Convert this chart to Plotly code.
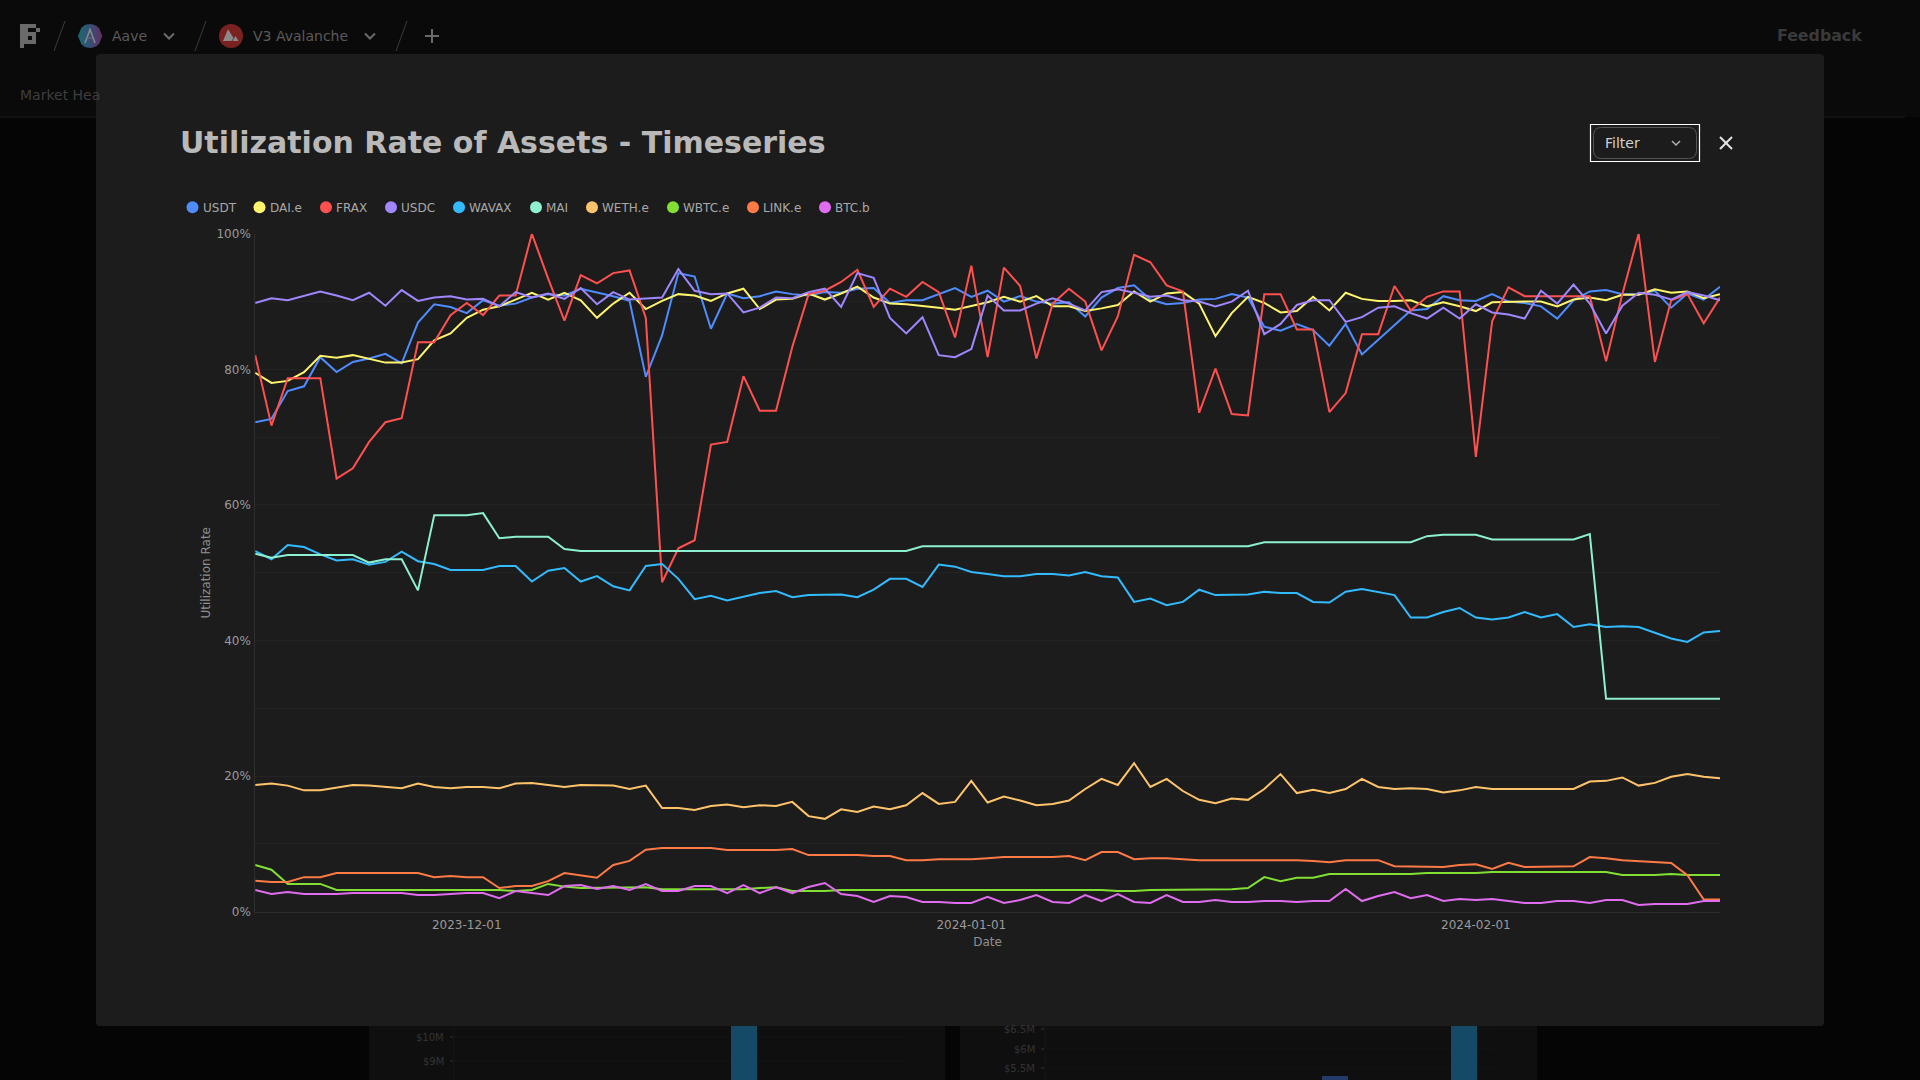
import pandas as pd
import plotly.graph_objects as go

START_DATE = "2023-11-18"
END_DATE = "2024-02-16"
dates = pd.date_range(START_DATE, END_DATE, freq="D")

usdt = [72.2,72.7,76.8,77.5,81.8,79.6,81.1,81.6,82.3,80.9,86.9,89.6,89.2,88.3,90.2,89.4,89.7,90.6,91.1,90.9,
        91.9,91.4,90.8,90.1,78.9,85.0,94.2,93.7,86.0,91.2,90.5,90.8,91.5,91.1,90.9,91.4,91.3,91.9,92.0,89.8,90.2,
        90.2,91.1,92.0,90.7,91.6,90.0,90.8,90.0,89.7,89.9,87.8,90.6,92.0,92.4,90.3,89.6,89.8,90.3,90.4,91.1,
        90.6,86.3,85.7,86.7,85.8,83.5,86.7,82.2,84.4,86.6,88.7,88.9,90.8,90.2,90.1,91.1,90.0,89.8,89.3,87.5,
        90.2,91.5,91.7,91.1,91.1,91.6,89.1,91.2,90.3,92.2]
dai_e = [79.5,78.0,78.3,79.6,82.0,81.7,82.1,81.5,81.0,81.0,81.5,84.3,85.3,87.6,88.8,89.3,90.3,91.3,90.3,91.3,
         90.2,87.6,89.7,91.3,88.9,90.1,91.1,90.9,90.1,91.2,91.9,88.9,90.3,90.4,91.2,90.3,91.2,92.2,90.6,89.7,89.6,
         89.4,89.1,88.8,89.3,89.9,90.7,90.0,90.8,89.3,89.3,88.6,89.0,89.5,91.5,90.0,91.2,91.4,89.7,84.9,88.3,
         90.7,89.8,88.4,88.6,90.7,88.7,91.3,90.4,90.1,90.1,90.2,89.3,89.9,89.3,88.6,89.9,90.0,90.0,90.0,89.3,
         90.3,90.6,90.2,91.0,91.0,91.8,91.3,91.5,90.5,91.1]
frax = [82.1,71.7,78.7,78.7,78.7,63.9,65.4,69.3,72.2,72.8,84.0,84.0,88.0,89.8,88.0,90.9,90.9,100,93.4,87.2,
        93.9,92.7,94.2,94.6,87.6,48.6,53.6,54.8,68.9,69.3,79.0,73.9,73.9,83.3,91.1,91.6,92.9,94.7,89.2,91.9,90.7,
        92.9,91.4,84.7,95.3,81.8,95.0,92.3,81.6,89.7,91.9,90.0,82.8,87.8,96.9,95.8,92.4,91.5,73.6,80.1,73.4,
        73.2,91.1,91.1,85.9,85.9,73.7,76.5,85.2,85.2,92.3,88.7,90.7,91.5,91.5,67.1,87.1,92.1,90.8,90.8,90.8,
        90.8,90.8,81.2,91.1,100,81.1,90.2,91.1,86.8,90.6]
usdc = [89.8,90.5,90.2,90.9,91.5,90.9,90.2,91.3,89.4,91.7,90.1,90.6,90.8,90.3,90.4,89.3,91.4,90.6,91.2,90.4,
        92.0,89.6,91.4,90.3,90.5,90.6,94.8,91.6,91.1,91.2,88.4,89.1,90.6,90.5,91.4,91.9,89.2,94.2,93.5,87.6,85.3,
        87.7,82.1,81.8,83.0,90.9,88.7,88.7,89.7,90.5,89.7,88.7,91.4,91.8,91.3,90.7,90.9,90.2,90.0,89.3,90.0,
        91.6,85.2,86.7,89.5,90.2,90.2,87.0,87.7,89.1,89.3,88.3,87.5,89.1,87.5,89.6,88.4,88.1,87.5,91.6,89.7,
        92.5,89.7,85.3,89.4,91.3,91.0,90.3,91.4,90.9,90.2]
wavax = [53.2,52.0,54.1,53.8,52.7,51.8,52.0,51.2,51.6,53.1,51.7,51.3,50.4,50.4,50.4,51.0,51.0,48.7,50.3,50.7,
         48.7,49.5,48.0,47.4,51.0,51.3,49.1,46.1,46.6,45.9,46.4,47.0,47.3,46.4,46.7,46.7,46.8,46.4,47.5,49.1,49.1,
         47.9,51.2,50.9,50.1,49.8,49.5,49.5,49.8,49.8,49.6,50.1,49.5,49.3,45.7,46.2,45.2,45.7,47.5,46.7,46.8,
         46.8,47.2,47.0,47.0,45.7,45.6,47.2,47.6,47.2,46.7,43.4,43.4,44.2,44.8,43.4,43.1,43.4,44.2,43.4,43.9,
         42.0,42.4,42.0,42.1,42.0,41.1,40.3,39.8,41.2,41.4]
mai = [52.8,52.2,52.6,52.6,52.6,52.6,52.6,51.5,52.0,52.0,47.4,58.5,58.5,58.5,58.8,55.1,55.3,55.3,55.3,53.5,
       53.2,53.2,53.2,53.2,53.2,53.2,53.2,53.2,53.2,53.2,53.2,53.2,53.2,53.2,53.2,53.2,53.2,53.2,53.2,53.2,53.2,
       53.9,53.9,53.9,53.9,53.9,53.9,53.9,53.9,53.9,53.9,53.9,53.9,53.9,53.9,53.9,53.9,53.9,53.9,53.9,53.9,53.9,
       54.5,54.5,54.5,54.5,54.5,54.5,54.5,54.5,54.5,54.5,55.4,55.6,55.6,55.6,54.9,54.9,54.9,54.9,54.9,54.9,55.7,
       31.4,31.4,31.4,31.4,31.4,31.4,31.4,31.4]
weth_e = [18.7,18.9,18.6,17.9,17.9,18.3,18.7,18.6,18.4,18.2,18.9,18.4,18.2,18.4,18.4,18.2,18.9,19.0,18.7,18.4,
          18.7,18.6,18.6,18.1,18.6,15.3,15.3,15.0,15.6,15.8,15.4,15.7,15.6,16.2,14.1,13.7,15.1,14.7,15.5,15.1,
          15.7,17.5,15.9,16.2,19.3,
          16.1,17.0,16.4,15.7,15.9,16.4,18.1,19.6,18.7,21.9,18.4,19.6,17.8,16.5,16.0,16.7,16.5,18.1,20.3,17.5,
          18.0,17.5,18.1,19.6,18.4,18.1,18.2,18.1,17.6,17.9,18.4,18.1,18.1,18.1,18.2,18.1,18.1,19.2,19.3,19.8,
          18.6,19.0,19.9,20.3,19.9,19.7]
wbtc_e = [6.9,6.2,4.1,4.1,4.1,3.2,3.2,3.2,3.2,3.2,3.2,3.2,3.2,3.2,3.2,3.2,3.05,3.2,4.1,3.7,
          3.5,3.5,3.5,3.6,3.6,3.3,3.3,3.3,3.3,3.3,3.3,3.5,3.6,3.05,3.05,3.05,3.2,3.2,3.2,3.2,
          3.2,3.2,3.2,3.2,3.3,3.2,3.2,3.2,3.2,3.2,3.2,3.2,3.2,3.05,3.05,3.2,3.2,3.2,3.3,3.3,
          3.3,3.5,5.1,4.5,5.0,5.0,5.55,5.55,5.55,5.55,5.55,5.55,5.7,5.7,5.7,5.7,5.85,5.85,5.85,5.85,
          5.85,5.85,5.85,5.85,5.4,5.4,5.4,5.55,5.4,5.4,5.4]
link_e = [4.57,4.38,4.38,5.1,5.1,5.7,5.7,5.7,5.7,5.7,5.7,5.1,5.26,5.1,5.1,3.5,3.8,3.8,4.5,5.7,
          5.4,5.0,6.9,7.5,9.15,9.4,9.4,9.4,9.4,9.1,9.1,9.1,9.1,9.25,8.35,8.35,8.35,8.35,8.2,8.2,
          7.6,7.6,7.75,7.75,7.75,7.9,8.06,8.06,8.06,8.06,8.2,7.6,8.8,8.8,7.75,7.9,7.9,7.75,7.6,7.6,
          7.6,7.6,7.6,7.6,7.6,7.47,7.3,7.6,7.6,7.6,6.7,6.7,6.7,6.6,6.9,7.0,6.3,7.2,6.6,6.6,
          6.6,6.7,8.06,7.9,7.6,7.47,7.3,7.2,5.4,1.8,1.8]
btc_b = [3.2,2.6,2.9,2.6,2.6,2.6,2.75,2.75,2.85,2.75,2.46,2.46,2.6,2.75,2.75,2.0,3.05,2.75,2.46,3.79,
         3.93,3.34,3.79,3.2,4.08,3.05,3.05,3.79,3.79,2.75,3.93,2.75,3.64,2.75,3.64,4.23,2.6,2.31,1.43,2.31,
         2.16,1.43,1.43,1.28,1.28,2.2,1.28,1.72,2.46,1.43,1.28,2.46,1.57,2.6,1.43,1.28,2.46,1.43,1.43,1.72,
         1.43,1.43,1.57,1.57,1.43,1.57,1.57,3.34,1.57,2.31,2.9,2.0,2.46,1.57,1.87,1.72,1.87,1.57,1.28,1.28,
         1.57,1.57,1.28,1.72,1.72,0.98,1.13,1.13,1.13,1.57,1.57]

series_names = ["USDT", "DAI.e", "FRAX", "USDC", "WAVAX", "MAI", "WETH.e", "WBTC.e", "LINK.e", "BTC.b"]
series_values = [usdt, dai_e, frax, usdc, wavax, mai, weth_e, wbtc_e, link_e, btc_b]
series_colors = ["#4F8CFF", "#FFF56D", "#FF5050", "#A086FF", "#33BBFF", "#8DF0D0", "#FFC46B", "#82E034", "#FF7A45", "#E06CF0"]
for v in series_values:
    assert len(v) == len(dates), len(v)

y_ticks = [0, 10, 20, 30, 40, 50, 60, 70, 80, 90, 100]
y_labels = ["0%", "", "20%", "", "40%", "", "60%", "", "80%", "", "100%"]
x_ticks = ["2023-12-01", "2024-01-01", "2024-02-01"]

W, H = 1920, 1080
FONT = "DejaVu Sans"
def fx(x): return x / W
def fy(y): return 1 - y / H

shapes, notes = [], []
def rect(x0, y0, x1, y1, fill, line=None, lw=0):
    shapes.append(dict(type="rect", xref="paper", yref="paper", layer="below",
                       x0=fx(x0), x1=fx(x1), y0=fy(y1), y1=fy(y0), fillcolor=fill,
                       line=dict(color=line or fill, width=lw)))
def seg(x0, y0, x1, y1, color, lw=1):
    shapes.append(dict(type="line", xref="paper", yref="paper", layer="below",
                       x0=fx(x0), x1=fx(x1), y0=fy(y0), y1=fy(y1), line=dict(color=color, width=lw)))
def circle(cx, cy, r, fill):
    shapes.append(dict(type="circle", xref="paper", yref="paper", layer="below",
                       x0=fx(cx - r), x1=fx(cx + r), y0=fy(cy + r), y1=fy(cy - r), fillcolor=fill, line=dict(width=0)))
def poly(pts, fill=None, line=None, lw=0, close=True):
    d = "M " + " L ".join(f"{fx(a):.6f},{fy(b):.6f}" for a, b in pts) + (" Z" if close else "")
    shapes.append(dict(type="path", path=d, xref="paper", yref="paper", layer="below",
                       fillcolor=fill or "rgba(0,0,0,0)", line=dict(color=line or "rgba(0,0,0,0)", width=lw)))
def rrect(x0, y0, x1, y1, r, fill=None, line=None, lw=0):
    def P(a, b): return f"{fx(a):.6f},{fy(b):.6f}"
    d = (f"M {P(x0 + r, y0)} L {P(x1 - r, y0)} Q {P(x1, y0)} {P(x1, y0 + r)} L {P(x1, y1 - r)} "
         f"Q {P(x1, y1)} {P(x1 - r, y1)} L {P(x0 + r, y1)} Q {P(x0, y1)} {P(x0, y1 - r)} "
         f"L {P(x0, y0 + r)} Q {P(x0, y0)} {P(x0 + r, y0)} Z")
    shapes.append(dict(type="path", path=d, xref="paper", yref="paper", layer="below",
                       fillcolor=fill or "rgba(0,0,0,0)", line=dict(color=line or "rgba(0,0,0,0)", width=lw)))
def text(x, y, s, size, color, anchor="left", bold=False, angle=0, family=FONT):
    notes.append(dict(xref="paper", yref="paper", x=fx(x), y=fy(y), text=f"<b>{s}</b>" if bold else s,
                      showarrow=False, xanchor=anchor, yanchor="middle", textangle=angle,
                      font=dict(family=family, size=size, color=color), borderpad=0, borderwidth=0))

# page behind the dialog
rect(0, 0, W, 117, "#0a0a0a")
rect(0, 117, W, H, "#050505")
seg(0, 117, 1905, 117, "#1d1d1d")
# dimmed header
logo = "#6a6a6a"
for b in [(20, 24, 36, 28), (20, 24, 28, 40), (20, 40, 36, 44), (20, 44, 24, 48), (32, 32, 36, 44), (28, 32, 36, 36), (36, 28, 40, 32)]:
    rect(*b, logo)
for x in (54, 195, 396):
    seg(x, 51, x + 11, 21, "#3a3a3a")
# Aave badge: teal to purple across the circle
aave_colors = ["#1f6470", "#255f72", "#2c5975", "#345275", "#3c4a72", "#47426e", "#523a68", "#5d3363"]
for k, c in enumerate(aave_colors):
    xa, xb = 78 + 3 * k, 78 + 3 * (k + 1)
    def half(x): return max(0.0, 144 - (x - 90) ** 2) ** 0.5
    poly([(xa, 36 - half(xa)), (xb + 0.3, 36 - half(xb + 0.3)), (xb + 0.3, 36 + half(xb + 0.3)), (xa, 36 + half(xa))], fill=c)
poly([(85, 43), (90, 29.5), (95, 43)], line="#8a8a8a", lw=1.5, close=False)
seg(87, 38, 93, 38, "#6f6f80", 1)
circle(231, 36, 12, "#7a2222")
poly([(223, 41), (228, 29.3), (233.5, 38), (231.5, 41)], fill="#8a8a8a")
poly([(232.5, 41), (235.5, 36), (238.5, 41)], fill="#8a8a8a")
text(112, 36, "Aave", 14, "#5a5a5a")
text(253, 36, "V3 Avalanche", 14, "#5a5a5a")
for x in (169, 370):
    poly([(x - 5, 33.5), (x, 38.5), (x + 5, 33.5)], line="#6a6a6a", lw=2, close=False)
seg(432, 29, 432, 43, "#6a6a6a", 2)
seg(425, 36, 439, 36, "#6a6a6a", 2)
text(20, 95, "Market Hea", 14, "#3e3e3e")
text(1777, 36, "Feedback", 15.8, "#3a3a3a", bold=True)
# dimmed cards below the dialog
rect(369, 1026, 945, H, "#0f0f0f")
rect(960, 1026, 1537, H, "#0f0f0f")
seg(454, 1026, 454, H, "#171717")
seg(1045, 1026, 1045, H, "#171717")
for y, s in ((1037, "$10M"), (1061, "$9M")):
    seg(454, y, 905, y, "#151515")
    seg(450, y, 453, y, "#333333")
    text(444, y, s, 10, "#333333", anchor="right")
for y, s in ((1029, "$6.5M"), (1049, "$6M"), (1068, "$5.5M")):
    seg(1045, y, 1495, y, "#151515")
    seg(1041, y, 1044, y, "#333333")
    text(1035, y, s, 10, "#333333", anchor="right")
rect(731, 1026, 757, H, "#154A66")
rect(1451, 1026, 1477, H, "#154A66")
rect(1322, 1076, 1348, H, "#233A6B")
# dialog
rrect(96, 54, 1824, 1026, 4, fill="#1c1c1c")
text(180, 142.5, "Utilization Rate of Assets - Timeseries", 30, "#b9b9b9", bold=True)
rect(1590.5, 124.5, 1699.5, 161.5, "rgba(0,0,0,0)", line="#ffffff", lw=1.2)
rrect(1593.5, 127.5, 1696.5, 158.5, 8, line="#555555", lw=1)
text(1605, 143, "Filter", 14, "#d2d2d2")
poly([(1672, 141), (1676, 145), (1680, 141)], line="#b0b0b0", lw=1.5, close=False)
seg(1720, 137, 1732, 149, "#e6e6e6", 2)
seg(1720, 149, 1732, 137, "#e6e6e6", 2)

# legend
legend_dot_x = [192.5, 259.5, 326, 391, 459, 536, 592, 673, 753, 825]
legend_text_x = [203, 270, 336, 401, 469, 546, 601.5, 683, 763, 835]
for name, color, dx, tx in zip(series_names, series_colors, legend_dot_x, legend_text_x):
    circle(dx, 207.3, 6, color)
    text(tx, 207.6, name, 12, "#a8a8a8")

fig = go.Figure()
for name, values, color in zip(series_names, series_values, series_colors):
    fig.add_trace(go.Scatter(x=dates, y=values, name=name, mode="lines", cliponaxis=False,
                             line=dict(color=color, width=2), hoverinfo="skip"))

tick_font = dict(family=FONT, size=12, color="#9a9a9a")
title_font = dict(family=FONT, size=12, color="#8f8f8f")
fig.update_layout(
    width=W, height=H, margin=dict(l=0, r=0, t=0, b=0, autoexpand=False),
    paper_bgcolor="#0a0a0a", plot_bgcolor="rgba(0,0,0,0)", showlegend=False,
    shapes=shapes, annotations=notes, font=dict(family=FONT),
    xaxis=dict(domain=[fx(255.2), fx(1720)], type="date", range=[START_DATE, END_DATE],
               tickvals=x_ticks, ticktext=x_ticks, ticks="", showgrid=False, zeroline=False,
               showline=True, linecolor="#2e2e2e", linewidth=1, tickfont=tick_font, ticklabelstandoff=2,
               title=dict(text="Date", font=title_font, standoff=6), automargin=False),
    yaxis=dict(domain=[fy(911.7), fy(233.8)], range=[0, 100], tickvals=y_ticks, ticktext=y_labels,
               ticks="", showgrid=True, gridcolor="#232323", gridwidth=1, zeroline=False,
               showline=True, linecolor="#2e2e2e", linewidth=1, tickfont=tick_font, ticklabelstandoff=1,
               title=dict(text="Utilization Rate", font=title_font, standoff=3), automargin=False),
)
fig.write_html("out.html", config=dict(displayModeBar=False),
               post_script="document.body.style.margin='0';document.body.style.overflow='hidden';document.body.style.background='#0a0a0a';")
